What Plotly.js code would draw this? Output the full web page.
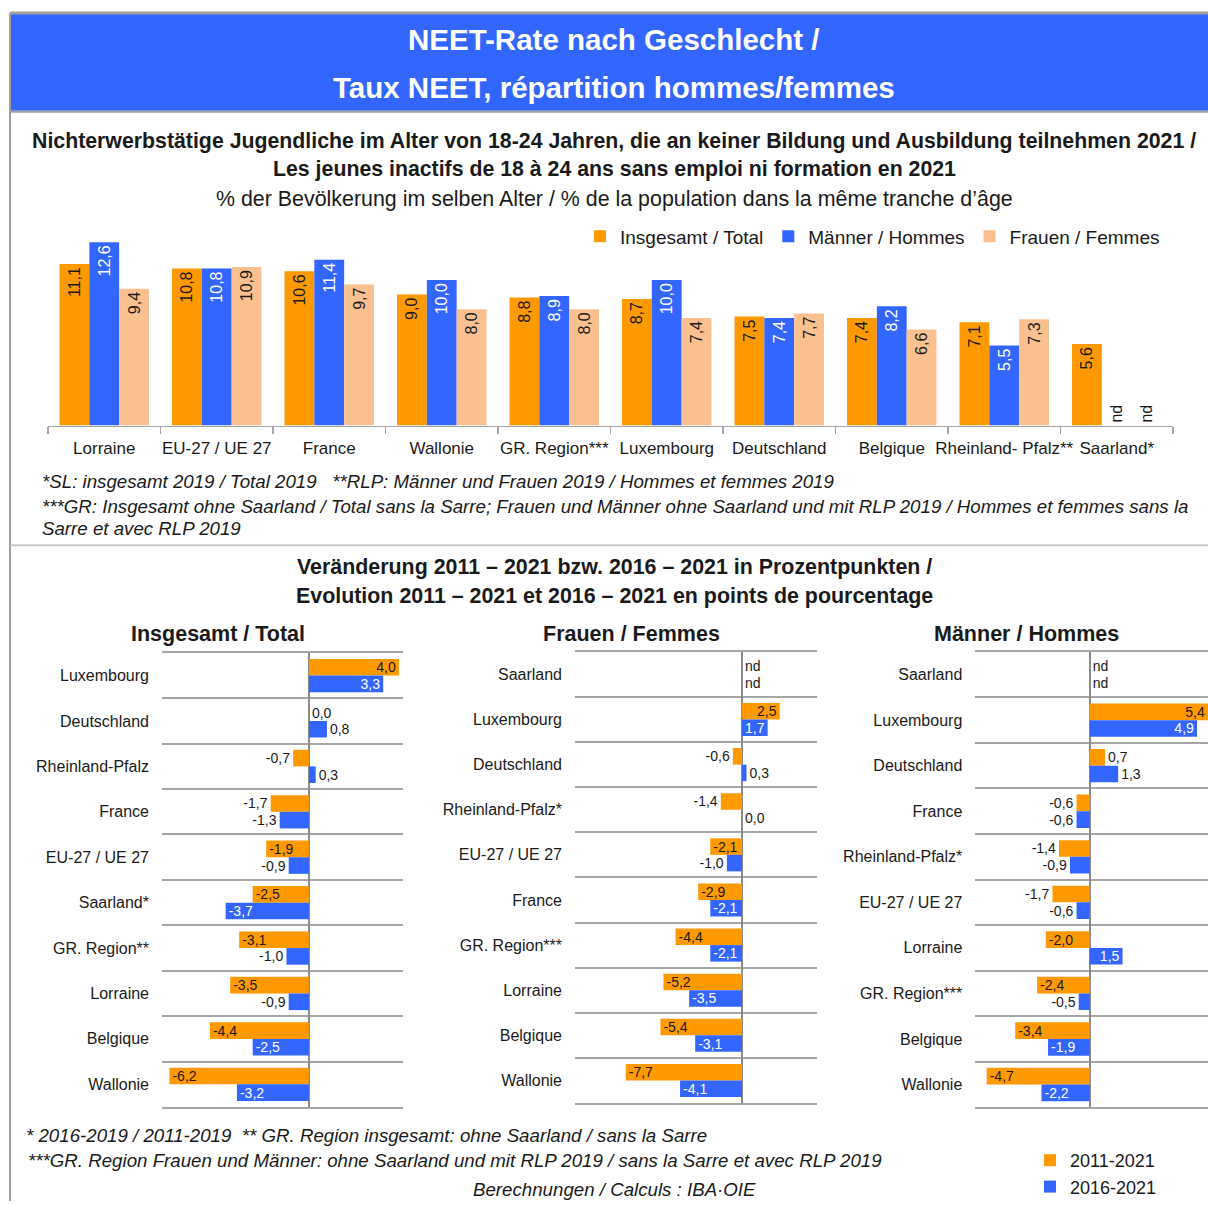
<!DOCTYPE html>
<html><head><meta charset="utf-8">
<script src="https://cdn.plot.ly/plotly-3.0.1.min.js"></script>
<style>html,body{margin:0;padding:0;background:#fff;} #chart{width:1208px;height:1205px;}</style>
</head><body><div id="chart"></div>
<script>
// ---------- DATA ----------
const topCategories = ['Lorraine','EU-27 / UE 27','France','Wallonie','GR. Region***','Luxembourg','Deutschland','Belgique','Rheinland- Pfalz**','Saarland*'];
const topTotal = [11.1,10.8,10.6,9.0,8.8,8.7,7.5,7.4,7.1,5.6];
const topMen   = [12.6,10.8,11.4,10.0,8.9,10.0,7.4,8.2,5.5,null];
const topWomen = [9.4,10.9,9.7,8.0,8.0,7.4,7.7,6.6,7.3,null];
const topSeriesNames = ['Insgesamt / Total','Männer / Hommes','Frauen / Femmes'];

const totalCategories = ['Luxembourg','Deutschland','Rheinland-Pfalz','France','EU-27 / UE 27','Saarland*','GR. Region**','Lorraine','Belgique','Wallonie'];
const total2011 = [4.0,0.0,-0.7,-1.7,-1.9,-2.5,-3.1,-3.5,-4.4,-6.2];
const total2016 = [3.3,0.8,0.3,-1.3,-0.9,-3.7,-1.0,-0.9,-2.5,-3.2];

const womenCategories = ['Saarland','Luxembourg','Deutschland','Rheinland-Pfalz*','EU-27 / UE 27','France','GR. Region***','Lorraine','Belgique','Wallonie'];
const women2011 = [null,2.5,-0.6,-1.4,-2.1,-2.9,-4.4,-5.2,-5.4,-7.7];
const women2016 = [null,1.7,0.3,0.0,-1.0,-2.1,-2.1,-3.5,-3.1,-4.1];

const menCategories = ['Saarland','Luxembourg','Deutschland','France','Rheinland-Pfalz*','EU-27 / UE 27','Lorraine','GR. Region***','Belgique','Wallonie'];
const men2011 = [null,5.4,0.7,-0.6,-1.4,-1.7,-2.0,-2.4,-3.4,-4.7];
const men2016 = [null,4.9,1.3,-0.6,-0.9,-0.6,1.5,-0.5,-1.9,-2.2];

const periodNames = ['2011-2021','2016-2021'];

// ---------- STYLE ----------
const FONT = 'Liberation Sans, Arial, Helvetica, sans-serif';
const ORANGE = '#FF9900', BLUE = '#3366FF', PEACH = '#FAC090', GRID = '#a6a6a6', TXT = '#1a1a1a';
const W = 1208, H = 1205;
const px = x => x / W, py = y => 1 - y / H;
const fmt = v => v == null ? 'nd' : v.toFixed(1).replace('.', ',');
const val = v => v == null ? 0 : v;

const traces = [];
// top chart
const topSeries = [topTotal, topMen, topWomen];
const topColors = [ORANGE, BLUE, PEACH];
const topTextColors = [TXT, '#ffffff', TXT];
const topOffsets = [-0.3975, -0.1325, 0.1325];
topSeries.forEach((s, i) => {
  traces.push({
    type: 'bar', name: topSeriesNames[i], x: topCategories, y: s.map(val),
    xaxis: 'x', yaxis: 'y', legend: 'legend',
    marker: {color: topColors[i]}, width: 0.265, offset: topOffsets[i],
    text: s.map(fmt), textangle: -90,
    textposition: s.map(v => v == null ? 'outside' : 'inside'),
    insidetextanchor: 'end', constraintext: 'none',
    insidetextfont: {family: FONT, size: 16, color: topTextColors[i]},
    outsidetextfont: {family: FONT, size: 16, color: TXT},
    hoverinfo: 'skip'
  });
});

// bottom panels
const panels = [
  {cats: totalCategories, a: total2011, b: total2016, ax: '2'},
  {cats: womenCategories, a: women2011, b: women2016, ax: '3'},
  {cats: menCategories,   a: men2011,   b: men2016,   ax: '4'}
];
const thrA = 1.8, thrB = 1.4; // label inside when bar long enough
panels.forEach((p, k) => {
  [[p.a, ORANGE, TXT, thrA, -0.366, periodNames[0]], [p.b, BLUE, '#ffffff', thrB, 0, periodNames[1]]].forEach(([s, col, tcol, thr, off, nm]) => {
    traces.push({
      type: 'bar', orientation: 'h', name: nm, x: s.map(val), y: p.cats,
      xaxis: 'x' + p.ax, yaxis: 'y' + p.ax,
      legend: 'legend2', showlegend: k === 0,
      marker: {color: col}, width: 0.366, offset: off,
      text: s.map(fmt),
      textposition: s.map(v => (v != null && Math.abs(v) >= thr) ? 'inside' : 'outside'),
      insidetextanchor: 'end', constraintext: 'none', textangle: 0,
      insidetextfont: {family: FONT, size: 14, color: tcol},
      outsidetextfont: {family: FONT, size: 14, color: TXT},
      hoverinfo: 'skip'
    });
  });
});

function hAxis(domain, range) {
  return {domain, range, showgrid: false, showticklabels: false, ticks: '',
    zeroline: true, zerolinecolor: '#8c8c8c', zerolinewidth: 2,
    showline: true, mirror: true, linecolor: GRID, linewidth: 2, fixedrange: true};
}
function cAxis(domain, anchor) {
  return {domain, anchor, type: 'category', autorange: 'reversed', tickson: 'boundaries',
    showgrid: true, gridcolor: GRID, gridwidth: 2, ticks: '', showline: false, zeroline: false,
    ticklabelstandoff: 12, tickfont: {family: FONT, size: 16, color: TXT}, fixedrange: true};
}

const ann = (text, x, y, size, opts = {}) => Object.assign({
  text, x: px(x), y: py(y), xref: 'paper', yref: 'paper', showarrow: false,
  xanchor: 'center', yanchor: 'middle', font: {family: FONT, size, color: TXT}
}, opts);

const annotations = [
  ann('<b>NEET-Rate nach Geschlecht /</b>', 614, 40, 29.5, {font: {family: FONT, size: 29.5, color: '#ffffff'}}),
  ann('<b>Taux NEET, répartition hommes/femmes</b>', 614, 88, 29.5, {font: {family: FONT, size: 29.5, color: '#ffffff'}}),
  ann('<b>Nichterwerbstätige Jugendliche im Alter von 18-24 Jahren, die an keiner Bildung und Ausbildung teilnehmen 2021 /</b>', 614, 141, 21.3),
  ann('<b>Les jeunes inactifs de 18 à 24 ans sans emploi ni formation en 2021</b>', 614, 170, 21.3),
  ann('% der Bevölkerung im selben Alter / % de la population dans la même tranche d’âge', 614, 200, 21.4),
  ann('<i>*SL: insgesamt 2019 / Total 2019   **RLP: Männer und Frauen 2019 / Hommes et femmes 2019</i>', 40, 483, 18.7, {xanchor: 'left'}),
  ann('<i>***GR: Insgesamt ohne Saarland / Total sans la Sarre; Frauen und Männer ohne Saarland und mit RLP 2019 / Hommes et femmes sans la</i>', 40, 508, 18.7, {xanchor: 'left'}),
  ann('<i>Sarre et avec RLP 2019</i>', 40, 530, 18.7, {xanchor: 'left'}),
  ann('<b>Veränderung 2011 – 2021 bzw. 2016 – 2021 in Prozentpunkten /</b>', 614, 569, 21.4),
  ann('<b>Evolution 2011 – 2021 et 2016 – 2021 en points de pourcentage</b>', 614, 598, 21.4),
  ann('<b>Insgesamt / Total</b>', 218, 636, 21.5),
  ann('<b>Frauen / Femmes</b>', 631, 636, 21.5),
  ann('<b>Männer / Hommes</b>', 1026, 636, 21.5),
  ann('<i>* 2016-2019 / 2011-2019  ** GR. Region insgesamt: ohne Saarland / sans la Sarre</i>', 24, 1139, 18.7, {xanchor: 'left'}),
  ann('<i>***GR. Region Frauen und Männer: ohne Saarland und mit RLP 2019 / sans la Sarre et avec RLP 2019</i>', 26, 1164, 18.7, {xanchor: 'left'}),
  ann('<i>Berechnungen / Calculs : IBA·OIE</i>', 614, 1193, 18.7)
];

const lineShape = (x0, y0, x1, y1, color, width) => ({type: 'line', xref: 'paper', yref: 'paper',
  x0: px(x0), y0: py(y0), x1: px(x1), y1: py(y1), line: {color, width}});
const shapes = [
  {type: 'rect', xref: 'paper', yref: 'paper', x0: px(11), x1: 1, y0: py(111), y1: py(14), fillcolor: BLUE, line: {width: 0}, layer: 'below'},
  lineShape(10, 13, 10, 1205, '#a0a0a0', 2),
  lineShape(10, 13, 1208, 13, '#a0a0a0', 3),
  lineShape(10, 112, 1208, 112, '#a0a0a0', 2),
  lineShape(10, 547, 1208, 547, '#c8c8c8', 2)
];

const layout = {
  width: W, height: H, margin: {l: 0, r: 0, t: 0, b: 0},
  paper_bgcolor: '#ffffff', plot_bgcolor: 'rgba(0,0,0,0)',
  font: {family: FONT, color: TXT},
  barmode: 'group', bargap: 0.2,
  xaxis: {domain: [px(48), px(1173)], type: 'category', tickson: 'boundaries', ticks: 'outside',
    ticklen: 7, tickcolor: GRID, tickwidth: 1.5, showline: true, linecolor: GRID, linewidth: 1.5,
    tickangle: 0, automargin: false, ticklabelstandoff: 7,
    showgrid: false, tickfont: {family: FONT, size: 17, color: TXT}, anchor: 'y', fixedrange: true},
  yaxis: {domain: [py(427), py(222.6)], range: [0, 14], visible: false, anchor: 'x', fixedrange: true},
  xaxis2: Object.assign(hAxis([px(162), px(403)], [-6.53, 4.18]), {anchor: 'y2'}),
  yaxis2: cAxis([py(1110.7), py(655)], 'x2'),
  xaxis3: Object.assign(hAxis([px(575), px(817.3)], [-11.06, 4.99]), {anchor: 'y3'}),
  yaxis3: cAxis([py(1106.7), py(654)], 'x3'),
  xaxis4: Object.assign(hAxis([px(975.3), 1], [-5.22, 5.4]), {anchor: 'y4'}),
  yaxis4: cAxis([py(1111), py(654)], 'x4'),
  legend: {orientation: 'h', x: px(580), y: py(218), xanchor: 'left', yanchor: 'top',
    font: {family: FONT, size: 19, color: TXT}, bgcolor: 'rgba(0,0,0,0)', traceorder: 'normal'},
  legend2: {orientation: 'v', x: px(1030), y: py(1146), xanchor: 'left', yanchor: 'top',
    font: {family: FONT, size: 18, color: TXT}, bgcolor: 'rgba(0,0,0,0)', tracegroupgap: 0},
  annotations, shapes, showlegend: true
};

Plotly.newPlot('chart', traces, layout, {displayModeBar: false, staticPlot: true});
</script>
</body></html>
